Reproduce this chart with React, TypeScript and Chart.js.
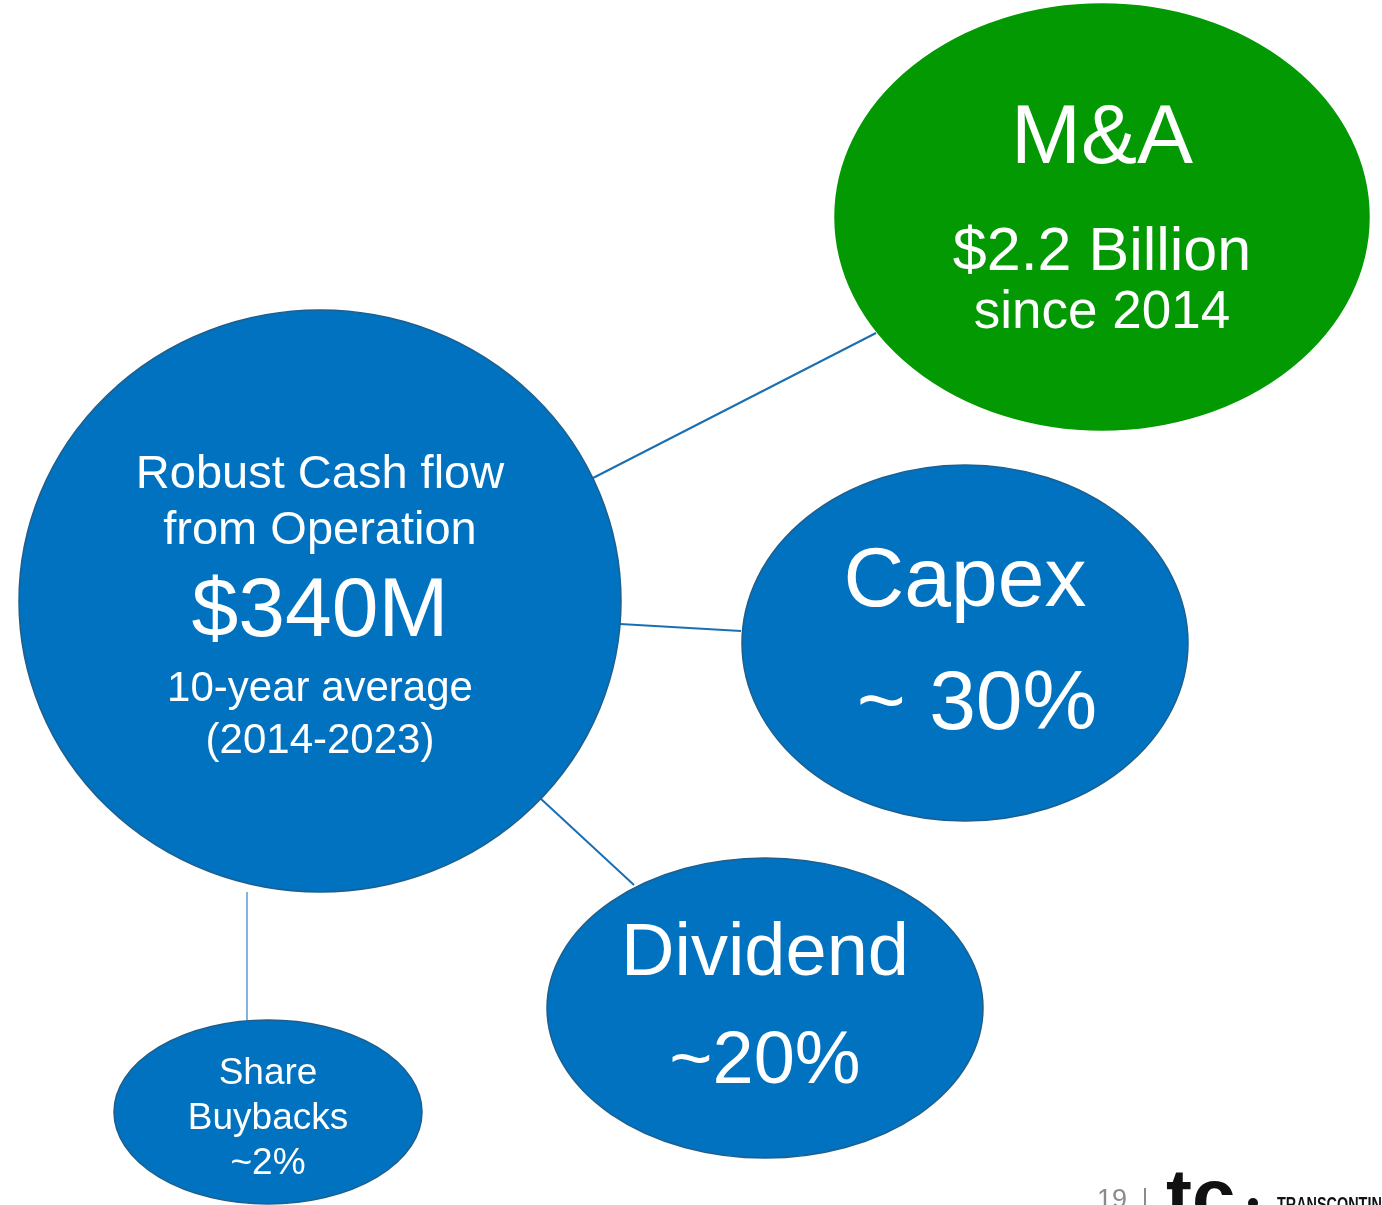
import React, { useEffect, useRef } from "react";
import { Chart, registerables } from "chart.js";

Chart.register(...registerables);

const W = 1382;
const H = 1205;

// Nodes (ellipses) in layout units
const nodeNames = ["Cash flow", "M&A", "Capex", "Dividend", "Share Buybacks"];
const nodeCx = [320, 1102, 965, 765, 268];
const nodeCy = [601, 217, 643, 1008, 1112];
const nodeRx = [301, 267, 223, 218, 154];
const nodeRy = [291, 213, 178, 150, 92];
const nodeColors = ["#0172BF", "#039903", "#0172BF", "#0172BF", "#0172BF"];
const nodeBorders = ["#1d5f8e", "#039903", "#1d5f8e", "#1d5f8e", "#1d5f8e"];

// Text lines per node
const nodeLines: string[][] = [
  ["Robust Cash flow", "from Operation", "$340M", "10-year average", "(2014-2023)"],
  ["M&A", "$2.2 Billion", "since 2014"],
  ["Capex", "~ 30%"],
  ["Dividend", "~20%"],
  ["Share", "Buybacks", "~2%"],
];
const nodeLineY: number[][] = [
  [472, 528, 610, 686, 738],
  [137, 250, 310],
  [580, 703],
  [952, 1060],
  [1071, 1116, 1161],
];
const nodeLineSize: number[][] = [
  [47, 47, 84, 42, 42],
  [84, 61, 53],
  [84, 84],
  [74, 74],
  [37, 37, 37],
];
const nodeLineDx: number[][] = [
  [0, 0, 0, 0, 0],
  [0, 0, 0],
  [0, 12],
  [0, 0],
  [0, 0, 0],
];

// Connector lines (start x, start y, end x, end y)
const linkX1 = [593, 620, 540, 247];
const linkY1 = [478, 624, 798, 892];
const linkX2 = [876, 741, 634, 247];
const linkY2 = [333, 631, 885, 1021];
const linkColors = ["#1a6fb3", "#1a6fb3", "#1a6fb3", "#5b9bd5"];
const linkWidths = [2, 2, 2, 1.5];

const FONT = "'Liberation Sans', Arial, sans-serif";
const TEXT_SHIFT = 3;

const ellipsePlugin = {
  id: "ellipses",
  afterDatasetsDraw(chart: any) {
    const ctx = chart.ctx;
    const xs = chart.scales.x;
    const ys = chart.scales.y;
    const sx = (v: number) => xs.getPixelForValue(v);
    const sy = (v: number) => ys.getPixelForValue(v);
    const kx = Math.abs(sx(1) - sx(0));
    const ky = Math.abs(sy(1) - sy(0));
    ctx.save();
    for (let i = 0; i < nodeNames.length; i++) {
      ctx.beginPath();
      ctx.ellipse(sx(nodeCx[i]), sy(nodeCy[i]), nodeRx[i] * kx, nodeRy[i] * ky, 0, 0, Math.PI * 2);
      ctx.fillStyle = nodeColors[i];
      ctx.fill();
      ctx.lineWidth = 1.5;
      ctx.strokeStyle = nodeBorders[i];
      ctx.stroke();
      ctx.fillStyle = "#ffffff";
      ctx.textAlign = "center";
      ctx.textBaseline = "middle";
      const lines = nodeLines[i];
      for (let j = 0; j < lines.length; j++) {
        ctx.font = `${nodeLineSize[i][j]}px ${FONT}`;
        ctx.fillText(lines[j], sx(nodeCx[i] + nodeLineDx[i][j]), sy(nodeLineY[i][j] + TEXT_SHIFT));
      }
    }
    // footer
    ctx.textAlign = "left";
    ctx.textBaseline = "alphabetic";
    ctx.fillStyle = "#8a8a8a";
    ctx.font = `27px ${FONT}`;
    ctx.fillText("19", 1097, 1208);
    ctx.fillRect(1144, 1188, 2, 20);
    ctx.fillStyle = "#111111";
    ctx.font = `bold 78px ${FONT}`;
    ctx.fillText("tc", 1166, 1223);
    ctx.beginPath();
    ctx.arc(1253, 1203, 5, 0, Math.PI * 2);
    ctx.fill();
    ctx.save();
    ctx.translate(1277, 1211);
    ctx.scale(0.72, 1);
    ctx.font = `bold 20px ${FONT}`;
    ctx.fillText("TRANSCONTINENTAL", 0, 0);
    ctx.restore();
    ctx.restore();
  },
};

export default function App() {
  const ref = useRef<HTMLCanvasElement | null>(null);
  useEffect(() => {
    document.body.style.margin = "0";
    const datasets = linkX1.map((_, i) => ({
      type: "scatter" as const,
      data: [
        { x: linkX1[i], y: linkY1[i] },
        { x: linkX2[i], y: linkY2[i] },
      ],
      showLine: true,
      borderColor: linkColors[i],
      borderWidth: linkWidths[i],
      pointRadius: 0,
      fill: false,
    }));
    const chart = new Chart(ref.current as HTMLCanvasElement, {
      type: "scatter",
      data: { datasets },
      options: {
        animation: false,
        responsive: false,
        maintainAspectRatio: false,
        layout: { padding: 0 },
        plugins: { legend: { display: false }, tooltip: { enabled: false } },
        scales: {
          x: { type: "linear", min: 0, max: W, display: false },
          y: { type: "linear", min: 0, max: H, reverse: true, display: false },
        },
      },
      plugins: [ellipsePlugin],
    } as any);
    return () => chart.destroy();
  }, []);
  return (
    <div style={{ width: W, height: H, background: "#ffffff" }}>
      <canvas ref={ref} width={W} height={H} style={{ display: "block" }} />
    </div>
  );
}
